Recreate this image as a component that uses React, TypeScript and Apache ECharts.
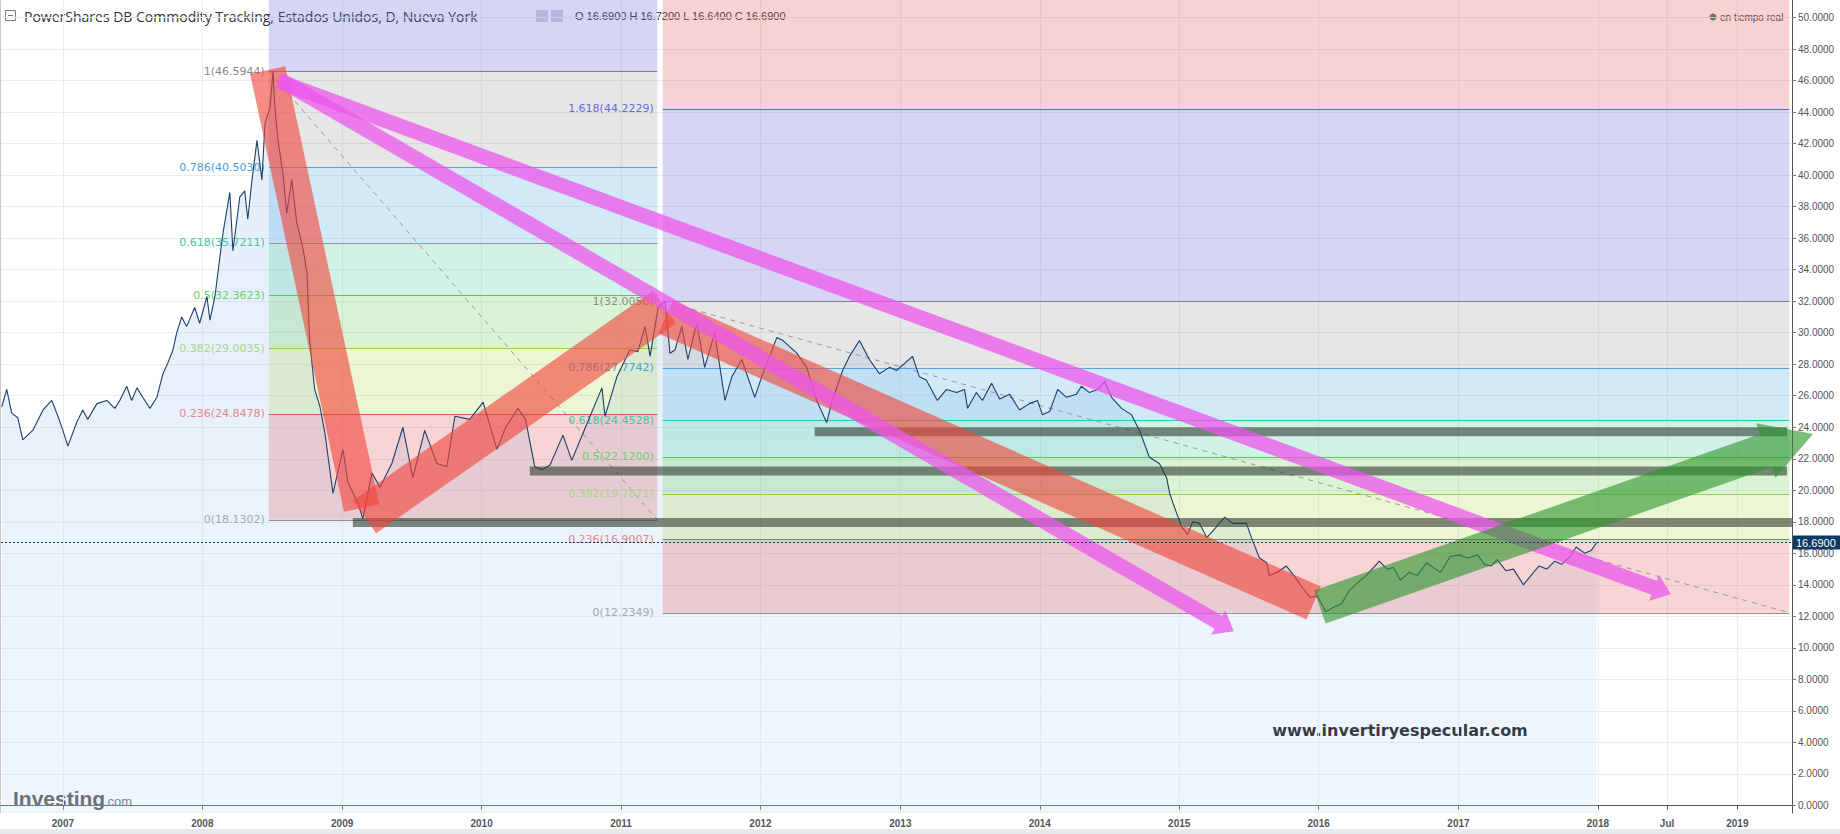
import React, { useEffect, useRef } from 'react';
import * as echarts from 'echarts';

const ts = (s: string) => {
  const [y, m, d] = s.split('-').map(Number);
  return new Date(y, m - 1, d).getTime();
};

// ---------- axes ----------
const X_MIN = '2006-07-23';
const X_MAX = '2019-05-24';
const Y_MIN = -0.476;
const Y_MAX = 51.11;
const yTicks = [0, 2, 4, 6, 8, 10, 12, 14, 16, 18, 20, 22, 24, 26, 28, 30, 32, 34, 36, 38, 40, 42, 44, 46, 48, 50];
const xTickDates = ['2007-01-01', '2008-01-01', '2009-01-01', '2010-01-01', '2011-01-01', '2012-01-01', '2013-01-01', '2014-01-01', '2015-01-01', '2016-01-01', '2017-01-01', '2018-01-01', '2018-07-01', '2019-01-01'];

// ---------- price (DBC daily close) ----------
const price: [string, number][] = [
  ['2006-07-25', 25.3], ['2006-08-07', 26.4], ['2006-08-20', 24.9], ['2006-09-05', 24.6], ['2006-09-18', 23.2],
  ['2006-10-14', 23.8], ['2006-11-10', 25.1], ['2006-12-03', 25.7], ['2006-12-19', 24.7], ['2007-01-01', 23.8],
  ['2007-01-14', 22.8], ['2007-02-06', 24.3], ['2007-02-22', 25.1], ['2007-03-07', 24.5], ['2007-03-31', 25.5],
  ['2007-04-26', 25.7], ['2007-05-17', 25.2], ['2007-05-30', 25.7], ['2007-06-17', 26.6], ['2007-06-30', 25.7],
  ['2007-07-14', 26.5], ['2007-07-29', 25.9], ['2007-08-17', 25.2], ['2007-09-04', 25.9], ['2007-09-20', 27.4],
  ['2007-10-03', 28.1], ['2007-10-16', 28.9], ['2007-10-26', 30.0], ['2007-11-08', 31.0], ['2007-11-21', 30.4],
  ['2007-12-12', 31.6], ['2007-12-25', 30.6], ['2008-01-13', 32.3], ['2008-01-21', 30.8], ['2008-02-03', 32.3],
  ['2008-02-16', 34.8], ['2008-02-24', 36.3], ['2008-03-13', 38.9], ['2008-03-21', 35.2], ['2008-04-08', 38.6],
  ['2008-04-21', 39.0], ['2008-04-29', 37.2], ['2008-05-10', 39.7], ['2008-05-23', 42.2], ['2008-06-05', 39.7],
  ['2008-06-13', 43.3], ['2008-06-26', 44.3], ['2008-07-04', 46.59], ['2008-07-09', 44.3], ['2008-07-17', 42.2],
  ['2008-07-30', 40.1], ['2008-08-09', 37.6], ['2008-08-22', 39.7], ['2008-09-04', 37.0], ['2008-09-20', 35.4],
  ['2008-10-01', 33.8], ['2008-10-08', 29.5], ['2008-10-21', 26.4], ['2008-11-04', 25.3], ['2008-11-17', 23.6],
  ['2008-12-08', 19.8], ['2009-01-03', 22.6], ['2009-01-16', 20.5], ['2009-02-11', 19.2], ['2009-02-24', 18.2],
  ['2009-03-20', 21.1], ['2009-04-10', 20.2], ['2009-05-11', 21.7], ['2009-06-09', 24.0], ['2009-07-05', 20.8],
  ['2009-08-05', 23.8], ['2009-09-06', 21.7], ['2009-10-02', 21.5], ['2009-10-23', 24.7], ['2009-12-01', 24.5],
  ['2010-01-05', 25.6], ['2010-02-10', 22.6], ['2010-03-05', 24.0], ['2010-04-06', 25.2], ['2010-04-26', 24.5],
  ['2010-05-20', 21.5], ['2010-06-08', 21.3], ['2010-06-29', 21.6], ['2010-08-02', 23.5], ['2010-08-25', 21.9],
  ['2010-09-23', 23.6], ['2010-11-12', 26.5], ['2010-11-20', 24.7], ['2010-12-21', 27.2], ['2011-01-24', 28.9],
  ['2011-02-14', 28.8], ['2011-03-05', 30.4], ['2011-03-18', 28.5], ['2011-04-08', 31.6], ['2011-04-26', 32.0],
  ['2011-05-09', 28.7], ['2011-05-22', 28.9], ['2011-06-09', 30.4], ['2011-06-25', 28.3], ['2011-07-18', 30.6],
  ['2011-08-08', 27.8], ['2011-09-03', 30.0], ['2011-09-30', 25.7], ['2011-10-18', 27.2], ['2011-11-13', 28.3],
  ['2011-12-17', 25.9], ['2012-01-07', 27.4], ['2012-02-13', 29.7], ['2012-02-29', 29.5], ['2012-04-05', 28.7],
  ['2012-05-01', 27.8], ['2012-05-27', 25.7], ['2012-06-22', 24.3], ['2012-07-07', 25.7], ['2012-08-03', 27.6],
  ['2012-08-21', 28.5], ['2012-09-16', 29.5], ['2012-10-12', 28.3], ['2012-11-07', 27.4], ['2012-12-04', 27.8],
  ['2012-12-22', 27.6], ['2013-02-02', 28.5], ['2013-02-20', 27.2], ['2013-03-10', 27.0], ['2013-04-08', 25.7],
  ['2013-05-02', 26.4], ['2013-05-28', 26.2], ['2013-06-18', 26.4], ['2013-06-26', 25.2], ['2013-07-19', 26.2],
  ['2013-08-04', 25.7], ['2013-08-28', 26.8], ['2013-09-18', 25.8], ['2013-10-14', 26.1], ['2013-11-09', 25.1],
  ['2013-12-05', 25.5], ['2013-12-26', 25.7], ['2014-01-08', 24.8], ['2014-01-27', 25.0], ['2014-02-17', 26.4],
  ['2014-03-12', 25.9], ['2014-04-07', 26.1], ['2014-04-20', 26.6], ['2014-05-11', 26.2], ['2014-06-01', 26.4],
  ['2014-06-20', 26.9], ['2014-07-08', 25.9], ['2014-08-03', 25.2], ['2014-08-29', 24.8], ['2014-09-19', 23.8],
  ['2014-10-15', 22.1], ['2014-11-10', 21.7], ['2014-11-29', 20.8], ['2014-12-07', 19.8], ['2014-12-20', 18.9],
  ['2015-01-07', 17.7], ['2015-01-23', 17.2], ['2015-02-05', 18.0], ['2015-02-23', 17.9], ['2015-03-14', 17.0],
  ['2015-03-29', 17.4], ['2015-04-30', 18.3], ['2015-05-21', 17.9], ['2015-06-26', 17.9], ['2015-07-09', 17.0],
  ['2015-07-30', 15.7], ['2015-08-18', 15.4], ['2015-08-25', 14.6], ['2015-09-15', 14.8], ['2015-10-08', 15.2],
  ['2015-10-28', 14.6], ['2015-11-20', 13.8], ['2015-12-10', 13.2], ['2015-12-28', 13.3], ['2016-01-20', 12.3],
  ['2016-02-10', 12.6], ['2016-03-01', 12.8], ['2016-03-20', 13.6], ['2016-04-15', 14.2], ['2016-05-05', 14.6],
  ['2016-06-08', 15.5], ['2016-06-28', 15.0], ['2016-07-15', 15.1], ['2016-08-02', 14.3], ['2016-08-25', 14.8],
  ['2016-09-15', 14.6], ['2016-10-10', 15.4], ['2016-11-01', 15.0], ['2016-11-15', 14.8], ['2016-12-10', 15.8],
  ['2017-01-05', 15.9], ['2017-01-25', 15.7], ['2017-02-20', 15.9], ['2017-03-10', 15.3], ['2017-03-28', 15.2],
  ['2017-04-12', 15.6], ['2017-05-05', 14.9], ['2017-05-25', 15.0], ['2017-06-20', 14.0], ['2017-07-10', 14.6],
  ['2017-07-31', 15.2], ['2017-08-20', 15.0], ['2017-09-10', 15.5], ['2017-09-28', 15.3], ['2017-10-20', 15.8],
  ['2017-11-05', 16.4], ['2017-11-28', 16.0], ['2017-12-15', 16.2], ['2017-12-29', 16.69],
];
const lastClose = 16.69;

// ---------- Fibonacci retracements ----------
const fibRatioLabels = ['1.618', '1', '0.786', '0.618', '0.5', '0.382', '0.236', '0'];
const fib1Span = ['2008-06-23', '2011-04-06'];
const fib1Values = [64.1894, 46.5944, 40.503, 35.7211, 32.3623, 29.0035, 24.8478, 18.1302];
const fib2Span = ['2011-04-20', '2019-05-17'];
const fib2Values = [44.2229, 32.005, 27.7742, 24.4528, 22.12, 19.7871, 16.9007, 12.2349];

// ---------- hand drawn annotations ----------
const grayBars: [string, string, number][] = [
  ['2009-01-29', '2019-05-24', 17.96],
  ['2010-05-07', '2019-05-11', 21.22],
  ['2012-05-22', '2019-05-11', 23.72],
];
const redBands: [string, number, string, number][] = [
  ['2008-06-20', 46.67, '2009-02-21', 18.88],
  ['2009-03-01', 18.31, '2011-04-25', 31.63],
  ['2011-04-28', 31.0, '2015-12-19', 12.85],
];
const magentaArrows: [string, number, string, number][] = [
  ['2008-07-17', 45.97, '2018-07-11', 13.42],
  ['2008-07-23', 46.03, '2015-05-24', 11.05],
];
const greenArrow: [string, number, string, number][] = [['2016-01-04', 12.6, '2019-07-18', 23.57]];

// ---------- styles ----------
const zoneColors = [
  'rgba(220,90,90,0.27)', 'rgba(100,100,220,0.27)', 'rgba(128,128,128,0.2)', 'rgba(60,160,220,0.23)',
  'rgba(40,200,140,0.21)', 'rgba(80,200,60,0.22)', 'rgba(160,210,40,0.2)', 'rgba(220,80,80,0.24)',
];
const levelLineColors = ['#6464d8', '#808080', '#5aa6dc', '#33c69c', '#55cc55', '#98cc4c', '#d85c5c', '#909090'];
const levelLabelColors = ['#6a6ad8', '#8a8a8a', '#4a9fd6', '#3cc8a0', '#66d066', '#a8d48a', '#e08888', '#a8a8a8'];
const fibLabelGaps = [4, 9];
const redBandWidths = [36, 40, 36];

function arrowPoints(a: number[], b: number[], shaftW: number, headL: number, headW: number) {
  const dx = b[0] - a[0];
  const dy = b[1] - a[1];
  const len = Math.hypot(dx, dy) || 1;
  const ux = dx / len, uy = dy / len;
  const nx = -uy, ny = ux;
  const s = shaftW / 2, h = headW / 2;
  if (headL <= 0) {
    return [[a[0] + nx * s, a[1] + ny * s], [b[0] + nx * s, b[1] + ny * s], [b[0] - nx * s, b[1] - ny * s], [a[0] - nx * s, a[1] - ny * s]];
  }
  const bx = b[0] - ux * headL, by = b[1] - uy * headL;
  return [
    [a[0] + nx * s, a[1] + ny * s], [bx + nx * s, by + ny * s], [bx + nx * h, by + ny * h], [b[0], b[1]],
    [bx - nx * h, by - ny * h], [bx - nx * s, by - ny * s], [a[0] - nx * s, a[1] - ny * s],
  ];
}

export default function App() {
  const ref = useRef<HTMLDivElement>(null);
  useEffect(() => {
    document.body.style.margin = '0';
    const chart = echarts.init(ref.current!, null, { renderer: 'svg' });
    const xTickValues = xTickDates.map(ts);

    const fibZoneData: number[][] = [];
    const fibLevelData: number[][] = [];
    const addFib = (span: string[], values: number[], fibIndex: number) => {
      const t1 = ts(span[0]), t2 = ts(span[1]);
      if (values[0] < Y_MAX) fibZoneData.push([t1, t2, values[0], Y_MAX, 0]);
      for (let i = 0; i < values.length - 1; i++) fibZoneData.push([t1, t2, values[i + 1], Math.min(values[i], Y_MAX), i + 1]);
      values.forEach((v, i) => { if (v < Y_MAX) fibLevelData.push([t1, t2, v, i, fibIndex]); });
    };
    addFib(fib1Span, fib1Values, 0);
    addFib(fib2Span, fib2Values, 1);
    const trendData = [
      [ts(fib1Span[0]), fib1Values[1], ts(fib1Span[1]), fib1Values[7]],
      [ts(fib2Span[0]), fib2Values[1], ts(fib2Span[1]), fib2Values[7]],
    ];
    const seg = (r: [string, number, string, number]) => [ts(r[0]), r[1], ts(r[2]), r[3]];
    const priceData = price.map(([d, v]) => [ts(d), v]);

    const option: any = {
      animation: false,
      grid: { left: 1, right: 48, top: 0, bottom: 21 },
      xAxis: {
        type: 'value', min: ts(X_MIN), max: ts(X_MAX),
        axisLine: { show: true, lineStyle: { color: '#555' } },
        axisTick: { show: true, customValues: xTickValues, length: 4, lineStyle: { color: '#555' } },
        axisLabel: {
          customValues: xTickValues, margin: 5, fontSize: 10, fontWeight: 'bold', color: '#555', fontFamily: 'Liberation Sans',
          formatter: (v: number) => { const d = new Date(v); return d.getMonth() === 6 ? 'Jul' : String(d.getFullYear()); },
        },
        splitLine: { show: true, lineStyle: { color: '#ececec' } },
      },
      yAxis: {
        type: 'value', position: 'right', min: Y_MIN, max: Y_MAX,
        axisLine: { show: true, lineStyle: { color: '#555' } },
        axisTick: { show: true, customValues: yTicks, length: 4, lineStyle: { color: '#777' } },
        axisLabel: { customValues: yTicks, margin: 6, fontSize: 10, color: '#555', fontFamily: 'Liberation Sans', formatter: (v: number) => v.toFixed(4) },
        splitLine: { show: true, lineStyle: { color: '#ececec' } },
      },
      series: [
        {
          type: 'line', name: 'area', data: priceData, showSymbol: false, silent: true, z: 1,
          lineStyle: { width: 0 },
          areaStyle: {
            color: new echarts.graphic.LinearGradient(0, 0, 0, 1, [
              { offset: 0, color: 'rgba(160,195,235,0.42)' },
              { offset: 1, color: 'rgba(195,220,248,0.38)' },
            ]),
            origin: 'start',
          },
        },
        {
          type: 'custom', name: 'fibZones', data: fibZoneData, silent: true, z: 2,
          renderItem: (params: any, api: any) => {
            const cs = params.coordSys;
            const p1 = api.coord([api.value(0), api.value(3)]);
            const p2 = api.coord([api.value(1), api.value(2)]);
            const top = Math.max(p1[1], cs.y);
            const bottom = Math.min(p2[1], cs.y + cs.height);
            const left = Math.max(p1[0], cs.x);
            const right = Math.min(p2[0], cs.x + cs.width);
            if (bottom <= top || right <= left) return { type: 'group', children: [] };
            return { type: 'rect', shape: { x: left, y: top, width: right - left, height: bottom - top }, style: { fill: zoneColors[api.value(4)] } };
          },
        },
        {
          type: 'custom', name: 'fibTrend', data: trendData, silent: true, z: 3,
          renderItem: (params: any, api: any) => {
            const a = api.coord([api.value(0), api.value(1)]);
            const b = api.coord([api.value(2), api.value(3)]);
            return { type: 'line', shape: { x1: a[0], y1: a[1], x2: b[0], y2: b[1] }, style: { stroke: '#9a9a9a', lineWidth: 1, lineDash: [5, 5] } };
          },
        },
        {
          type: 'custom', name: 'fibLevels', data: fibLevelData, silent: true, z: 3,
          renderItem: (params: any, api: any) => {
            const idx = api.value(3);
            const v = api.value(2);
            const a = api.coord([api.value(0), v]);
            const b = api.coord([api.value(1), v]);
            return {
              type: 'group',
              children: [
                { type: 'line', shape: { x1: a[0], y1: Math.round(a[1]) + 0.5, x2: b[0], y2: Math.round(b[1]) + 0.5 }, style: { stroke: levelLineColors[idx], lineWidth: 1 } },
                {
                  type: 'text', x: a[0] - fibLabelGaps[api.value(4)], y: a[1],
                  style: { text: `${fibRatioLabels[idx]}(${v.toFixed(4)})`, fill: levelLabelColors[idx], fontSize: 11, fontFamily: 'DejaVu Sans', align: 'right', verticalAlign: 'middle' },
                },
              ],
            };
          },
        },
        {
          type: 'line', name: 'DBC', data: priceData, showSymbol: false, silent: true, z: 4,
          lineStyle: { color: '#1d3f6e', width: 1.1 },
        },
        {
          type: 'custom', name: 'grayBars', data: grayBars.map(r => [ts(r[0]), ts(r[1]), r[2]]), silent: true, z: 5,
          renderItem: (params: any, api: any) => {
            const a = api.coord([api.value(0), api.value(2)]);
            const b = api.coord([api.value(1), api.value(2)]);
            return { type: 'rect', shape: { x: a[0], y: a[1] - 4.5, width: b[0] - a[0], height: 9 }, style: { fill: 'rgba(50,60,50,0.6)' } };
          },
        },
        {
          type: 'custom', name: 'redBands', data: redBands.map(seg), silent: true, z: 6,
          renderItem: (params: any, api: any) => {
            const a = api.coord([api.value(0), api.value(1)]);
            const b = api.coord([api.value(2), api.value(3)]);
            return { type: 'polygon', shape: { points: arrowPoints(a, b, redBandWidths[params.dataIndex], 0, 0) }, style: { fill: 'rgba(240,70,60,0.62)' } };
          },
        },
        {
          type: 'custom', name: 'magentaArrows', data: magentaArrows.map(seg), silent: true, z: 7,
          renderItem: (params: any, api: any) => {
            const a = api.coord([api.value(0), api.value(1)]);
            const b = api.coord([api.value(2), api.value(3)]);
            return { type: 'polygon', shape: { points: arrowPoints(a, b, 15, 18, 28) }, style: { fill: 'rgba(236,85,236,0.75)' } };
          },
        },
        {
          type: 'custom', name: 'greenArrow', data: greenArrow.map(seg), silent: true, z: 8,
          renderItem: (params: any, api: any) => {
            const a = api.coord([api.value(0), api.value(1)]);
            const b = api.coord([api.value(2), api.value(3)]);
            return { type: 'polygon', shape: { points: arrowPoints(a, b, 35, 50, 58) }, style: { fill: 'rgba(45,150,45,0.62)' } };
          },
        },
        {
          type: 'custom', name: 'lastClose', data: [[ts(X_MIN), lastClose]], silent: true, z: 9,
          renderItem: (params: any, api: any) => {
            const cs = params.coordSys;
            const p = api.coord([api.value(0), api.value(1)]);
            const y = Math.round(p[1]) + 0.5;
            const xr = cs.x + cs.width;
            return {
              type: 'group',
              children: [
                { type: 'line', shape: { x1: cs.x, y1: y, x2: xr, y2: y }, style: { stroke: '#0e3a66', lineWidth: 1, lineDash: [2, 2] } },
                { type: 'rect', shape: { x: xr + 1, y: y - 7, width: 47, height: 14 }, style: { fill: '#0e3a64' } },
                { type: 'text', x: xr + 4, y: y, style: { text: api.value(1).toFixed(4), fill: '#fff', fontSize: 11, fontFamily: 'Liberation Sans', verticalAlign: 'middle' } },
              ],
            };
          },
        },
      ],
      graphic: [
        { type: 'rect', shape: { x: 0, y: 829, width: 1840, height: 5 }, style: { fill: '#e6eaee' }, silent: true },
        { type: 'line', shape: { x1: 0.5, y1: 0, x2: 0.5, y2: 813 }, style: { stroke: '#c8c8c8', lineWidth: 1 }, silent: true },
        { type: 'rect', shape: { x: 5.5, y: 10.5, width: 10, height: 10 }, style: { fill: '#fff', stroke: '#777', lineWidth: 1 }, silent: true },
        { type: 'line', shape: { x1: 8, y1: 15.5, x2: 13, y2: 15.5 }, style: { stroke: '#777', lineWidth: 1 }, silent: true },
        {
          type: 'text', x: 24, y: 16, silent: true,
          style: { text: 'PowerShares DB Commodity Tracking, Estados Unidos, D, Nueva York', fill: '#333', fontSize: 14, fontFamily: 'Open Sans', verticalAlign: 'middle' },
        },
        { type: 'rect', shape: { x: 536, y: 10, width: 12, height: 12 }, style: { fill: 'rgba(200,200,215,0.8)' }, silent: true },
        { type: 'rect', shape: { x: 551, y: 10, width: 12, height: 12 }, style: { fill: 'rgba(200,200,215,0.8)' }, silent: true },
        {
          type: 'text', x: 575, y: 16, silent: true,
          style: { text: 'O 16.6900 H 16.7200 L 16.6400 C 16.6900', fill: '#333', fontSize: 11, fontFamily: 'Liberation Sans', verticalAlign: 'middle' },
        },
        { type: 'circle', shape: { cx: 1713, cy: 17, r: 3.5 }, style: { fill: '#2e8b57' }, silent: true },
        { type: 'text', x: 1720, y: 17, silent: true, style: { text: 'en tiempo real', fill: '#444', fontSize: 10, fontFamily: 'Liberation Sans', verticalAlign: 'middle' } },
        {
          type: 'text', x: 1400, y: 730, silent: true,
          style: { text: 'www.invertiryespecular.com', fill: '#000', fontSize: 16, fontWeight: 'bold', fontFamily: 'DejaVu Sans', align: 'center', verticalAlign: 'middle' },
        },
        { type: 'rect', shape: { x: 3, y: 783, width: 133, height: 29 }, style: { fill: 'rgba(255,255,255,0.6)' }, silent: true },
        { type: 'text', x: 13, y: 798, silent: true, style: { text: 'Investing', fill: '#4a4a4a', fontSize: 21, fontWeight: 'bold', fontFamily: 'Liberation Sans', verticalAlign: 'middle' } },
        { type: 'text', x: 104, y: 801, silent: true, style: { text: '.com', fill: '#666', fontSize: 13, fontFamily: 'Liberation Sans', verticalAlign: 'middle' } },
      ],
    };
    chart.setOption(option);
    return () => chart.dispose();
  }, []);
  return <div ref={ref} style={{ width: 1840, height: 834 }} />;
}
